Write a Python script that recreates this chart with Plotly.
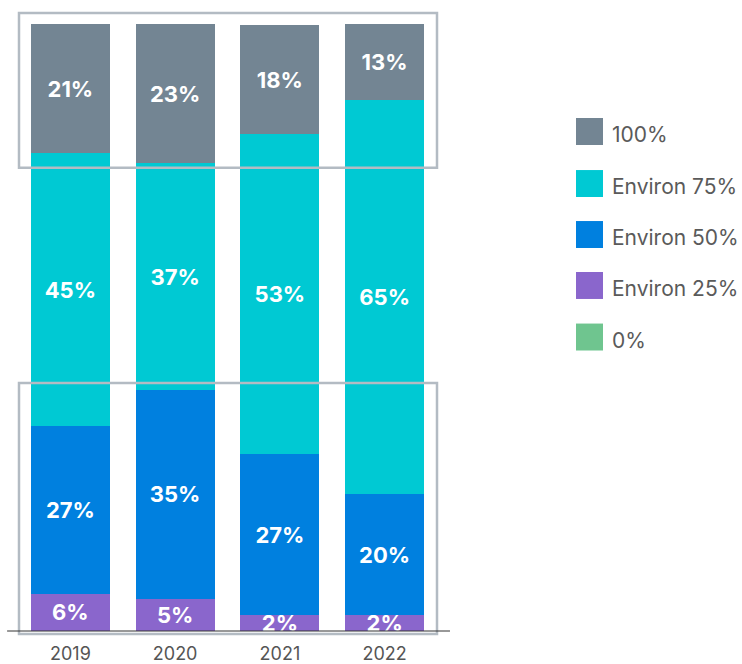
import plotly.graph_objects as go

years = ["2019", "2020", "2021", "2022"]
series_names = ["0%", "Environ 25%", "Environ 50%", "Environ 75%", "100%"]
v_0 = [0, 0, 0, 0]
v_25 = [6.1, 5.3, 2.6, 2.6]
v_50 = [27.6, 34.4, 26.5, 19.9]
v_75 = [45.0, 37.4, 52.7, 64.9]
v_100 = [21.3, 22.9, 18.1, 12.7]
lab_25 = ["6%", "5%", "2%", "2%"]
lab_50 = ["27%", "35%", "27%", "20%"]
lab_75 = ["45%", "37%", "53%", "65%"]
lab_100 = ["21%", "23%", "18%", "13%"]

colors = {"0%": "#6fc58f", "Environ 25%": "#8a66cc", "Environ 50%": "#0080df",
          "Environ 75%": "#00c9d3", "100%": "#738593"}

values = [v_0, v_25, v_50, v_75, v_100]
labels = [None, lab_25, lab_50, lab_75, lab_100]

fig = go.Figure()
for name, vals, lab in zip(series_names, values, labels):
    fig.add_trace(go.Bar(
        x=years, y=vals, name=name,
        marker=dict(color=colors[name], line=dict(width=0)),
        text=lab, textposition="inside" if lab else "none",
        insidetextanchor="middle", constraintext="none",
        textfont=dict(family="Inter", size=22, color="white", weight="bold"),
        showlegend=False,
    ))

shapes = []
# highlight rectangles
for y0, y1 in [(0.763, 1.018), (-0.005, 0.4086)]:
    shapes.append(dict(type="rect", xref="paper", yref="paper", x0=0.0024, x1=1.0,
                       y0=y0, y1=y1, line=dict(color="#b3bbc3", width=2.5),
                       fillcolor="rgba(0,0,0,0)", layer="above"))
# baseline
shapes.append(dict(type="line", xref="paper", yref="paper", x0=-0.026, x1=1.031,
                   y0=0, y1=0, line=dict(color="#333333", width=1), layer="above"))

# custom legend
legend_order = ["100%", "Environ 75%", "Environ 50%", "Environ 25%", "0%"]
legend_y = [0.8229, 0.7372, 0.6532, 0.5692, 0.4843]
annotations = []
for name, yc in zip(legend_order, legend_y):
    shapes.append(dict(type="rect", xref="paper", yref="paper", x0=1.3317, x1=1.3962,
                       y0=yc - 0.0222, y1=yc + 0.0222, line=dict(width=0),
                       fillcolor=colors[name]))
    annotations.append(dict(xref="paper", yref="paper", x=1.414, y=yc, text=name,
                            showarrow=False, xanchor="left", yanchor="middle", yshift=-3,
                            font=dict(family="Inter", size=21, color="#5a5a5a")))

fig.update_layout(
    width=742, height=664,
    margin=dict(l=18, r=305, t=24, b=33),
    barmode="stack", bargap=0.245,
    plot_bgcolor="white", paper_bgcolor="white",
    shapes=shapes, annotations=annotations,
    xaxis=dict(showgrid=False, zeroline=False, showline=False, automargin=False,
               ticks="outside", ticklen=6, tickcolor="rgba(0,0,0,0)",
               tickfont=dict(family="Inter", size=18, color="#555555")),
    yaxis=dict(visible=False, range=[0, 100], showgrid=False, automargin=False),
    font=dict(family="Inter"),
)

fig.write_html("out.html", config={"displayModeBar": False},
               post_script="document.body.style.margin='0';")
